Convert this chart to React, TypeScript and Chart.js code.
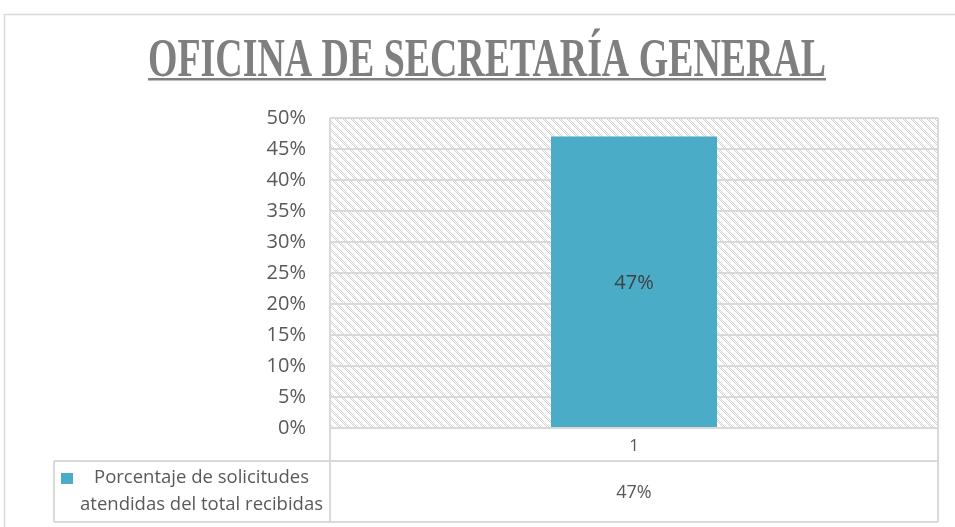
import React, { useEffect, useRef } from "react";
import { Chart, registerables } from "chart.js";

Chart.register(...registerables);

const TITLE = "OFICINA DE SECRETARÍA GENERAL";
const categories = ["1"];
const seriesName = "Porcentaje de solicitudes atendidas del total recibidas";
const legendLines = ["Porcentaje de solicitudes", "atendidas del total recibidas"];
const values = [0.47];
const yMin = 0;
const yMax = 0.5;
const yStep = 0.05;

const BAR_COLOR = "#4aacc6";
const GRID = "#d9d9d9";
const TEXT = "#595959";
const FONT = "'Open Sans', 'DejaVu Sans', sans-serif";

const pct = (v: number) => `${Math.round(v * 100)}%`;

function makePattern(): CanvasPattern | string {
  const c = document.createElement("canvas");
  c.width = 8;
  c.height = 8;
  const g = c.getContext("2d");
  if (!g) return "#eee";
  g.fillStyle = "#ffffff";
  g.fillRect(0, 0, 8, 8);
  g.fillStyle = "#d4d4d4";
  for (let y = 0; y < 8; y++) {
    for (let x = 0; x < 8; x++) {
      const d = (((x - y) % 8) + 8) % 8;
      if (d < 3 && (x + y) % 2 === 0) g.fillRect(x, y, 1, 1);
    }
  }
  const p = g.createPattern(c, "repeat");
  return p || "#eee";
}

export default function App() {
  const ref = useRef<HTMLCanvasElement | null>(null);

  useEffect(() => {
    const canvas = ref.current;
    if (!canvas) return;
    const pattern = makePattern();

    const customPlugin = {
      id: "custom",
      beforeDraw(chart: any) {
        const { ctx, chartArea: a } = chart;
        ctx.save();
        ctx.fillStyle = "#ffffff";
        ctx.fillRect(0, 0, chart.width, chart.height);
        // outer frame
        ctx.strokeStyle = GRID;
        ctx.lineWidth = 1.5;
        ctx.strokeRect(4.5, 14.5, chart.width + 10, chart.height + 10);
        // hatched plot background
        ctx.fillStyle = pattern;
        ctx.fillRect(a.left, a.top, a.right - a.left, a.bottom - a.top);
        // title
        ctx.font = `bold 54px 'Liberation Serif', 'DejaVu Serif', serif`;
        const w = ctx.measureText(TITLE).width;
        const target = 678;
        const cx = 487;
        const sx = target / w;
        ctx.save();
        ctx.translate(cx, 76);
        ctx.scale(sx, 1);
        ctx.fillStyle = "#7f7f7f";
        ctx.textAlign = "center";
        ctx.textBaseline = "alphabetic";
        ctx.fillText(TITLE, 0, 0);
        ctx.restore();
        ctx.fillStyle = "#7f7f7f";
        ctx.fillRect(cx - target / 2, 78, target, 2.5);
        ctx.restore();
      },
      afterDraw(chart: any) {
        const { ctx, chartArea: a } = chart;
        const xs = chart.scales.x;
        const ys = chart.scales.y;
        ctx.save();
        // data labels in bars
        const meta = chart.getDatasetMeta(0);
        ctx.font = `20px ${FONT}`;
        ctx.fillStyle = "#404040";
        ctx.textAlign = "center";
        ctx.textBaseline = "middle";
        meta.data.forEach((bar: any, i: number) => {
          const y0 = ys.getPixelForValue(0);
          ctx.fillText(pct(values[i]), bar.x, (bar.y + y0) / 2 + 1);
        });

        // plot border and table
        const row1 = a.bottom + 33;
        const row2 = row1 + 61;
        const legLeft = 54;
        ctx.strokeStyle = GRID;
        ctx.lineWidth = 2;
        ctx.beginPath();
        ctx.moveTo(a.left, a.top);
        ctx.lineTo(a.right, a.top);
        ctx.moveTo(a.left, a.top);
        ctx.lineTo(a.left, row2);
        ctx.moveTo(a.right, a.top);
        ctx.lineTo(a.right, row2);
        ctx.moveTo(a.left, a.bottom);
        ctx.lineTo(a.right, a.bottom);
        ctx.moveTo(legLeft, row1);
        ctx.lineTo(a.right, row1);
        ctx.moveTo(legLeft, row2);
        ctx.lineTo(a.right, row2);
        ctx.moveTo(legLeft, row1);
        ctx.lineTo(legLeft, row2);
        ctx.stroke();

        // table values
        ctx.font = `18px ${FONT}`;
        ctx.fillStyle = TEXT;
        ctx.textAlign = "center";
        ctx.textBaseline = "middle";
        categories.forEach((_, i) => {
          ctx.fillText(pct(values[i]), xs.getPixelForValue(i), (row1 + row2) / 2 + 1);
        });

        // legend key
        ctx.fillStyle = BAR_COLOR;
        ctx.fillRect(61, row1 + 12, 12, 11);
        ctx.fillStyle = TEXT;
        ctx.font = `18.5px ${FONT}`;
        const tcx = (73 + a.left) / 2;
        ctx.fillText(legendLines[0], tcx, row1 + 17);
        ctx.fillText(legendLines[1], tcx, row1 + 44);
        ctx.restore();
      },
    };

    const chart = new Chart(canvas, {
      type: "bar",
      data: {
        labels: categories,
        datasets: [
          {
            label: seriesName,
            data: values,
            backgroundColor: BAR_COLOR,
            borderWidth: 0,
            barPercentage: 0.273,
            categoryPercentage: 1,
          },
        ],
      },
      options: {
        animation: false,
        responsive: false,
        devicePixelRatio: 1,
        layout: { padding: { left: 0, top: 118, right: 17, bottom: 0 } },
        plugins: {
          legend: { display: false },
          title: { display: false },
          tooltip: { enabled: false },
        },
        scales: {
          x: {
            grid: { display: false },
            border: { display: false },
            ticks: {
              color: TEXT,
              font: { family: FONT, size: 17 },
              padding: 0,
            },
            afterFit: (s: any) => {
              s.height = 99;
            },
          },
          y: {
            min: yMin,
            max: yMax,
            grid: { color: GRID, lineWidth: 2, drawTicks: false },
            border: { display: false },
            ticks: {
              stepSize: yStep,
              color: TEXT,
              font: { family: FONT, size: 20 },
              padding: 24,
              callback: (v: any) => pct(Number(v)),
            },
            afterFit: (s: any) => {
              s.width = 330;
            },
          },
        },
      },
      plugins: [customPlugin],
    });
    return () => chart.destroy();
  }, []);

  return (
    <div style={{ position: "absolute", left: 0, top: 0, width: 955, height: 527 }}>
      <canvas ref={ref} width={955} height={527} style={{ display: "block", width: 955, height: 527 }} />
    </div>
  );
}
